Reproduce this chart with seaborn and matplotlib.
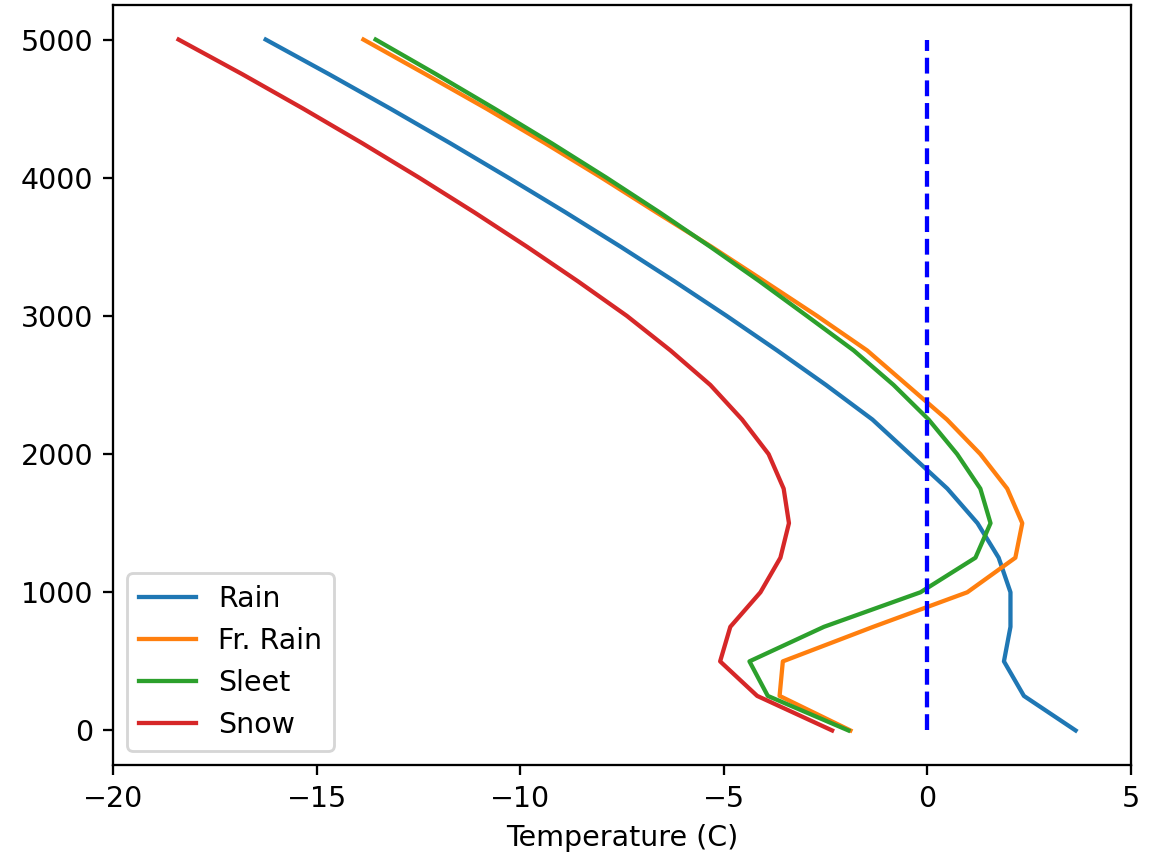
import numpy as np
import pandas as pd
import matplotlib
matplotlib.use("Agg")
import matplotlib.pyplot as plt
import seaborn as sns

heights = [0, 250, 500, 750, 1000, 1250, 1500, 1750, 2000, 2250, 2500,
           2750, 3000, 3250, 3500, 3750, 4000, 4250, 4500, 4750, 5000]

rain = [3.64, 2.37, 1.88, 2.04, 2.04, 1.75, 1.23, 0.49, -0.43, -1.35, -2.49,
        -3.69, -4.93, -6.21, -7.53, -8.89, -10.29, -11.72, -13.19, -14.70, -16.25]
fr_rain = [-1.89, -3.63, -3.55, -1.33, 0.98, 2.16, 2.33, 1.96, 1.30, 0.48, -0.50,
           -1.48, -2.71, -4.00, -5.30, -6.66, -8.00, -9.39, -10.83, -12.33, -13.85]
sleet = [-1.94, -3.92, -4.37, -2.54, -0.17, 1.18, 1.55, 1.30, 0.73, 0.03, -0.83,
         -1.81, -2.96, -4.12, -5.33, -6.58, -7.88, -9.23, -10.63, -12.07, -13.55]
snow = [-2.34, -4.18, -5.09, -4.84, -4.10, -3.61, -3.40, -3.53, -3.90, -4.55, -5.33,
        -6.31, -7.38, -8.58, -9.83, -11.13, -12.48, -13.88, -15.33, -16.83, -18.39]

labels = ["Rain", "Fr. Rain", "Sleet", "Snow"]
series = [rain, fr_rain, sleet, snow]
colors = sns.color_palette("tab10", 4)

freeze_x = [0, 0]
freeze_y = [0, 5000]

dpi = 205
fig = plt.figure(figsize=(1167 / dpi, 856 / dpi), dpi=dpi)
ax = fig.add_axes([113 / 1167, 1 - 765 / 856, (1131 - 113) / 1167, (765 - 5) / 856])

for lab, vals, col in zip(labels, series, colors):
    df = pd.DataFrame({"Temperature": vals, "Height": heights})
    sns.lineplot(data=df, x="Temperature", y="Height", sort=False, estimator=None,
                 color=col, label=lab, linewidth=1.5, ax=ax)

sns.lineplot(x=freeze_x, y=freeze_y, sort=False, estimator=None, color="b",
             linestyle="--", linewidth=1.5, ax=ax)

ax.set_xlim(-20, 5)
ax.set_xticks([-20, -15, -10, -5, 0, 5])
ax.set_yticks([0, 1000, 2000, 3000, 4000, 5000])
ax.set_xlabel("Temperature (C)")
ax.set_ylabel("")
ax.legend(loc="lower left")

fig.savefig("out.png", dpi=dpi)
